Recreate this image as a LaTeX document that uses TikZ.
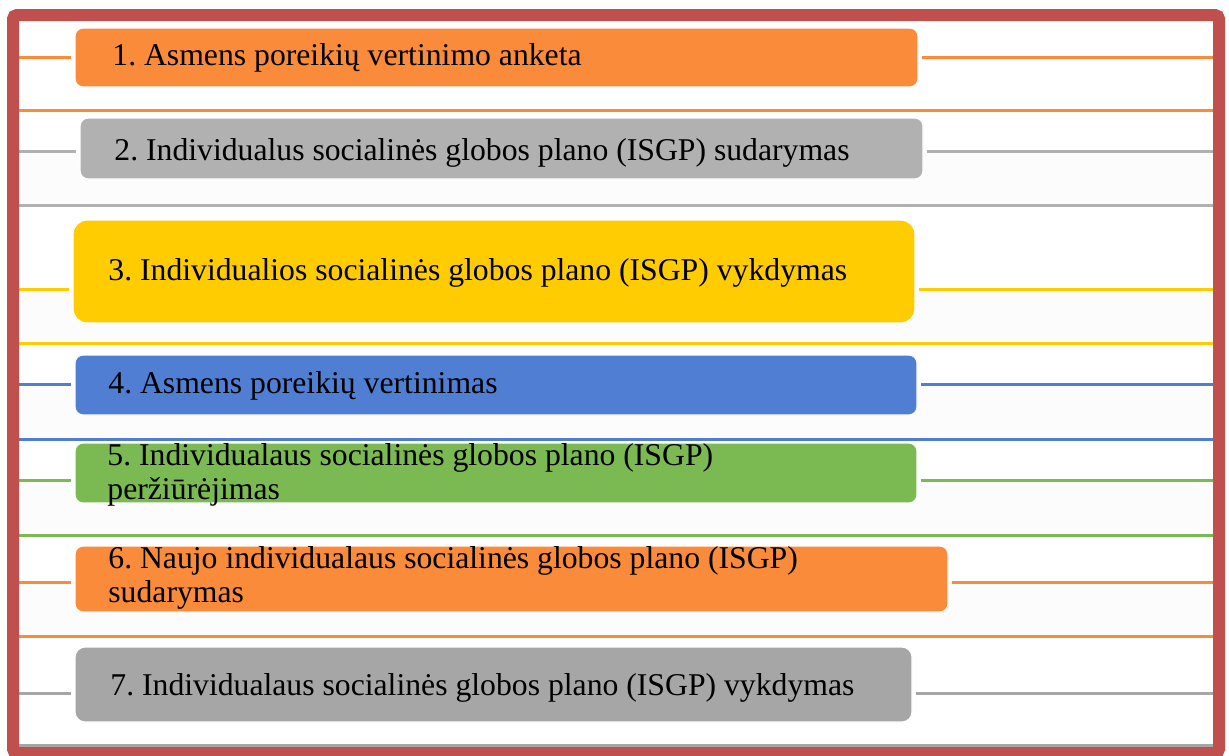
\documentclass[tikz,border=0pt]{standalone}
\usepackage{fontspec}
\setmainfont{Liberation Serif}
\usetikzlibrary{fit}
\frenchspacing
\definecolor{stageorange}{RGB}{249,139,59}
\definecolor{stagegray}{RGB}{177,177,177}
\definecolor{stageyellow}{RGB}{255,204,2}
\definecolor{stageblue}{RGB}{79,126,211}
\definecolor{stagegreen}{RGB}{123,185,82}
\definecolor{stagedark}{RGB}{166,166,166}
\definecolor{framered}{RGB}{192,80,77}
\definecolor{bandgray}{RGB}{252,252,252}
\tikzstyle{stagebox}=[draw=white,line width=0.6pt,rounded corners=4pt,inner sep=0pt]
\tikzstyle{stagetext}=[inner sep=0pt,font=\fontsize{15.85}{17}\selectfont,align=left]
\tikzstyle{rule}=[line width=1.5pt]

\begin{document}
\begin{tikzpicture}[x=0.5pt,y=-0.5pt]
    \useasboundingbox (0,0) rectangle (1229,755);
    \fill[white] (0,0) rectangle (1229,755);

    % light bands and separators
    \foreach \a/\b in {151/205,289/343,384/439,480/535,582/636}
        \fill[bandgray] (19,\a) rectangle (1213,\b);
    \foreach \y/\c in {110/stageorange,205/stagegray,343/stageyellow,439/stageblue,535/stagegreen,636/stageorange,745/stagedark}
        \draw[rule,draw=\c] (19,\y) -- (1213,\y);

    % stage boxes
    \node[stagebox,fill=stageorange,fit={(75,28) (918,87)}] (b1) {};
    \node[stagebox,fill=stagegray,fit={(80,118) (923,179)}] (b2) {};
    \node[stagebox,fill=stageyellow,rounded corners=7pt,fit={(73,220) (915,323)}] (b3) {};
    \node[stagebox,fill=stageblue,fit={(75,355) (917,415)}] (b4) {};
    \node[stagebox,fill=stagegreen,fit={(75,443) (917,503)}] (b5) {};
    \node[stagebox,fill=stageorange,fit={(75,546) (948,612)}] (b6) {};
    \node[stagebox,fill=stagedark,rounded corners=5pt,fit={(75,647) (912,722)}] (b7) {};

    % middle lines from the frame to the boxes
    \foreach \n/\y/\c in {1/57/stageorange,2/151/stagegray,3/289/stageyellow,4/384/stageblue,5/480/stagegreen,6/582/stageorange,7/693/stagedark}{
        \coordinate (l\n) at (19,\y);
        \coordinate (r\n) at (1213,\y);
        \draw[rule,draw=\c,shorten >=1.5pt] (l\n) -- (l\n -| b\n.west);
        \draw[rule,draw=\c,shorten <=1.5pt] (r\n -| b\n.east) -- (r\n);
    }

    % texts
    \node[stagetext,anchor=base west] (t1) at (112,65) {1. Asmens poreikių vertinimo anketa};
    \node[stagetext,anchor=base west] (t2) at (114,160) {2. Individualus socialinės globos plano (ISGP) sudarymas};
    \node[stagetext,anchor=base west] (t3) at (108,280) {3. Individualios socialinės globos plano (ISGP) vykdymas};
    \node[stagetext,anchor=base west] (t4) at (108,393) {4. Asmens poreikių vertinimas};
    \node[stagetext,anchor=west] (t5) at (107,475) {5. Individualaus socialinės globos plano (ISGP)\\peržiūrėjimas};
    \node[stagetext,anchor=west] (t6) at (108,578) {6. Naujo individualaus socialinės globos plano (ISGP)\\sudarymas};
    \node[stagetext,anchor=base west] (t7) at (110,695) {7. Individualaus socialinės globos plano (ISGP) vykdymas};

    % outer frame
    \draw[draw=framered,line width=6pt,rounded corners=2pt] (13,15) rectangle (1219,753);
\end{tikzpicture}
\end{document}
